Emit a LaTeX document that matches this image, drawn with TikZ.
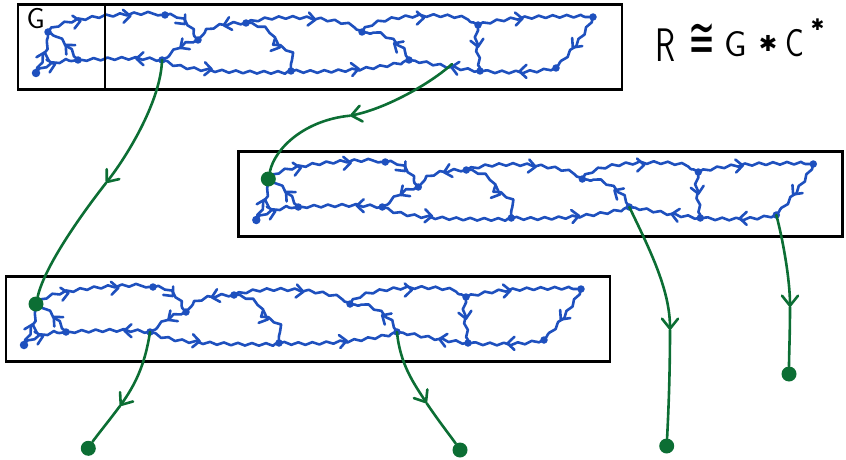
\documentclass[tikz,border=0pt]{standalone}
\usepackage{fontspec}
\newfontfamily\symfont{DejaVu Sans}
\usetikzlibrary{arrows.meta,decorations.pathmorphing,decorations.markings}
\definecolor{eblue}{RGB}{30,80,190}
\definecolor{egreen}{RGB}{12,110,52}

\tikzset{
  frame/.style={draw=black, line width=2.9pt},
  bedge/.style={color=eblue, line width=2.6pt, line cap=round, line join=round,
    preaction={draw=eblue, line width=2.6pt, line cap=round, line join=round, decorate,
      decoration={snake, amplitude=1.3pt, segment length=14pt, pre length=1pt, post length=1pt}}},
  fw/.style={postaction={decorate, decoration={markings,
    mark=at position #1 with {\arrow{Straight Barb[round,length=7pt,width=13pt]}}}}},
  bdot/.style={circle, fill=eblue, inner sep=0pt, minimum size=7.5pt},
  gline/.style={draw=egreen, line width=2.6pt, line cap=round},
  gtip/.style={-{Straight Barb[round,length=10pt,width=16pt]}},
  gdot/.style={circle, fill=egreen, inner sep=0pt, minimum size=15pt},
  strip/.pic={
    % vertices of the graph, relative to the top-left vertex
    \coordinate (-v0) at (-12,41);
    \coordinate (-v1) at (0,0);
    \coordinate (-v2) at (30,28);
    \coordinate (-v3) at (114,28);
    \coordinate (-v4) at (117,-17);
    \coordinate (-v5) at (150,8);
    \coordinate (-v6) at (198,-9);
    \coordinate (-v7) at (243,39);
    \coordinate (-v8) at (314,0);
    \coordinate (-v9) at (361,28);
    \coordinate (-v10) at (430,-7);
    \coordinate (-v11) at (432,39);
    \coordinate (-v12) at (545,-15);
    \coordinate (-v13) at (508,36);
    \coordinate (-m) at (404,32);
    % frame
    \draw[frame] (-30,-27.5) rectangle (574,57.5);
    % edges
    \path[bedge, fw=0.3, fw=0.72] (-v1) .. controls +(12,-12) and +(-45,0) .. (-v4);
    \path[bedge, fw=0.55] (-v4) .. controls +(18,0) and +(-12,-12) .. (-v5);
    \path[bedge, fw=0.45] (-v6) .. controls +(-25,0) and +(8,-10) .. (-v5);
    \path[bedge, fw=0.5] (-v5) .. controls +(-15,3) and +(15,-8) .. (-v3);
    \path[bedge, fw=0.32] (-v3) .. controls +(-30,-3) and +(30,0) .. (-v2);
    \path[bedge, fw=0.5] (-v2) .. controls +(-8,-12) and +(12,6) .. (-v1);
    \path[bedge, fw=0.5] (-v0) .. controls +(8,-8) and +(-12,2) .. (-v2);
    \path[bedge, fw=0.55] (-v0) .. controls +(6,-12) and +(0,15) .. (-v1);
    \path[bedge, fw=0.4] (-v3) .. controls +(20,10) and +(-60,0) .. (-v7);
    \path[bedge, fw=0.62] (-v6) .. controls +(18,3) and +(0,-10) .. (223,10)
          .. controls +(2,5) and +(-8,-6) .. (240,20) .. controls +(6,5) and +(0,-8) .. (-v7);
    \path[bedge, fw=0.6] (-v6) .. controls +(25,-8) and +(-25,-15) .. (-v8);
    \path[bedge, fw=0.55] (-v8) .. controls +(15,-18) and +(-12,-10) .. (-v10);
    \path[bedge, fw=0.42] (-v9) .. controls +(-5,-15) and +(18,2) .. (-v8);
    \path[bedge, fw=0.58] (-v7) .. controls +(40,2) and +(-30,8) .. (-v9);
    \path[bedge, fw=0.42] (-v11) .. controls +(-30,-3) and +(25,3) .. (-v9);
    \path[bedge, fw=0.5] (-v10) .. controls +(-4,15) and +(2,-15) .. (-v11);
    \path[bedge, fw=0.4] (-v10) .. controls +(30,-8) and +(-40,0) .. (-v12);
    \path[bedge, fw=0.6] (-v12) .. controls +(-10,20) and +(12,-15) .. (-v13);
    \path[bedge, fw=0.5] (-v13) .. controls +(-25,5) and +(30,0) .. (-v11);
    % vertex dots
    \node[bdot, minimum size=8.5pt] (-d0) at (-v0) {};
    \foreach \k in {1,...,13} \node[bdot] (-d\k) at (-v\k) {};
  }
}

\begin{document}
\begin{tikzpicture}[x=1pt, y=-1pt]
  \useasboundingbox (0,0) rectangle (846,460);

  % the three copies of the graph
  \pic (top) at (48,32) {strip};
  \pic (mid) at (268.3,179) {strip};
  \pic (bot) at (36,304) {strip};

  % first factor marked off in the top copy
  \draw[frame] (105,4.5) -- (105,89.5);
  \node[anchor=base, font=\sffamily\fontsize{29}{29}\selectfont] (lg) at (35.8,28.3) {G};

  % formula
  \node[anchor=base, font=\sffamily\fontsize{47}{47}\selectfont] (lr) at (665.5,61.7) {\scalebox{0.7}[1]{R}};
  \node[font=\symfont\fontsize{38}{38}\selectfont] (lcong) at (701.7,41) {\scalebox{0.85}[1.5]{≅}};
  \node[anchor=base, font=\sffamily\fontsize{36}{36}\selectfont] (lg2) at (736,56.7) {G};
  \node[font=\symfont\fontsize{22}{22}\selectfont] (last) at (768,43) {✱};
  \node[anchor=base, font=\sffamily\fontsize{39}{39}\selectfont] (lc) at (795,56.7) {\scalebox{0.8}[1]{C}};
  \node[font=\symfont\fontsize{16}{16}\selectfont] (lsup) at (817.5,25) {✱};

  % green markers and end points
  \node[gdot] (middot) at (mid-v1) {};
  \node[gdot] (botdot) at (bot-v1) {};
  \node[gdot] (e3) at (666.7,446) {};
  \node[gdot] (e4) at (789,374) {};
  \node[gdot] (e5) at (88.3,448.3) {};
  \node[gdot] (e6) at (460,450) {};

  \coordinate (ga1) at (106,183);
  \coordinate (ga2) at (350,115.7);
  \coordinate (ga3) at (670,330);
  \coordinate (ga4) at (790,307);
  \coordinate (ga5) at (120,406);
  \coordinate (ga6) at (426.7,403.3);

  \draw[gline, gtip] (top-v3) .. controls (161,100) and (128,155) .. (ga1);
  \draw[gline] (ga1) .. controls (84,211) and (45,265) .. (botdot);

  \draw[gline, gtip] (top-m) .. controls (430,84) and (385,109) .. (ga2);
  \draw[gline] (ga2) .. controls (305,120) and (275,148) .. (middot);

  \draw[gline, gtip] (mid-v9) .. controls (650,250) and (670,290) .. (ga3);
  \draw[gline] (ga3) .. controls (670,380) and (668,420) .. (e3);

  \draw[gline, gtip] (mid-v13) .. controls (783,240) and (790,280) .. (ga4);
  \draw[gline] (ga4) .. controls (790,335) and (789,355) .. (e4);

  \draw[gline, gtip] (bot-v3) .. controls (145,365) and (135,385) .. (ga5);
  \draw[gline] (ga5) .. controls (108,422) and (95,438) .. (e5);

  \draw[gline, gtip] (bot-v9) .. controls (400,365) and (415,385) .. (ga6);
  \draw[gline] (ga6) .. controls (440,423) and (452,438) .. (e6);
\end{tikzpicture}
\end{document}
